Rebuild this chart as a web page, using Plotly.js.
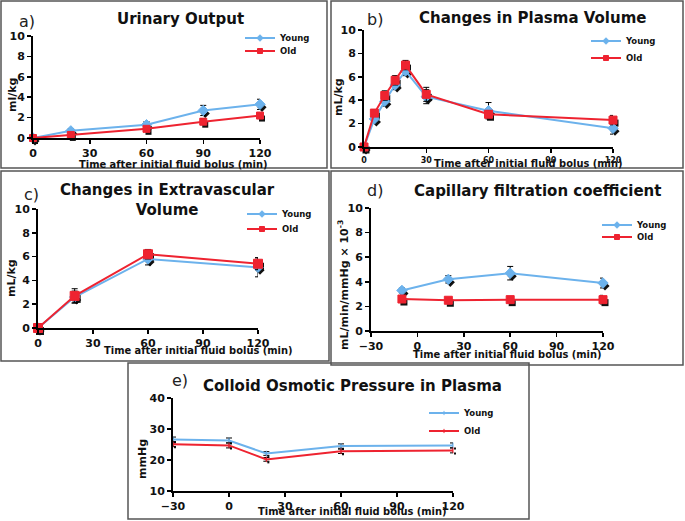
<!DOCTYPE html>
<html><head><meta charset="utf-8">
<script src="https://cdn.plot.ly/plotly-3.0.1.min.js"></script>
<style>html,body{margin:0;padding:0;background:#fff}#chart{width:685px;height:521px}</style>
</head><body><div id="chart"></div>
<script>
// ---------- data ----------
const urineTime = [0, 20, 60, 90, 120];
const urineYoung = [0, 0.7, 1.3, 2.7, 3.3];
const urineYoungErr = [0, 0.2, 0.3, 0.5, 0.5];
const urineOld = [0, 0.3, 0.9, 1.6, 2.2];
const urineOldErr = [0, 0.2, 0.2, 0.3, 0.25];

const plasmaTime = [0, 5, 10, 15, 20, 30, 60, 120];
const plasmaYoung = [0, 2.4, 3.9, 5.3, 6.5, 4.3, 3.1, 1.6];
const plasmaYoungErr = [0, 0.3, 0.4, 0.4, 0.4, 0.6, 0.7, 0.5];
const plasmaOld = [0, 2.9, 4.4, 5.7, 7.0, 4.5, 2.8, 2.3];
const plasmaOldErr = [0, 0.3, 0.4, 0.4, 0.4, 0.6, 0.3, 0.4];

const evTime = [0, 20, 60, 120];
const evYoung = [0, 2.6, 5.8, 5.1];
const evYoungErr = [0, 0.5, 0.5, 0.8];
const evOld = [0, 2.7, 6.2, 5.4];
const evOldErr = [0, 0.6, 0.4, 0.5];

const cfcTime = [-10, 20, 60, 120];
const cfcYoung = [3.3, 4.2, 4.7, 3.9];
const cfcYoungErr = [0.2, 0.3, 0.55, 0.4];
const cfcOld = [2.6, 2.5, 2.55, 2.55];
const cfcOldErr = [0.2, 0.15, 0.15, 0.35];

const copTime = [-30, 0, 20, 60, 120];
const copYoung = [26.6, 26.3, 22.1, 24.5, 24.7];
const copYoungErr = [0.8, 0.8, 0.6, 0.7, 0.8];
const copOld = [25.1, 24.7, 20.2, 22.8, 23.1];
const copOldErr = [0.8, 0.8, 0.6, 0.7, 0.8];

const seriesNames = ['Young', 'Old'];
const timeTicks = [0, 30, 60, 90, 120];
const timeTicksNeg = [-30, 0, 30, 60, 90, 120];
const volTicks = [0, 2, 4, 6, 8, 10];
const copTicks = [10, 20, 30, 40];

// ---------- layout helpers ----------
const W = 685, H = 521;
const fx = v => v / W;
const fy = v => 1 - v / H;
const YOUNG = '#6cb2ec';
const OLD = '#ee2330';
const FONT = 'DejaVu Sans, Verdana, sans-serif';
const NARROW = 'DejaVu Sans Condensed, Liberation Sans Narrow, DejaVu Sans, sans-serif';

const panels = [
  {x: urineTime, y1: urineYoung, e1: urineYoungErr, y2: urineOld, e2: urineOldErr,
   box: [33, 260, 36, 138], xr: [0, 120], yr: [0, 10], xt: timeTicks, yt: volTicks, xfs: 11, ms: [8, 7],
   leg: [280, 38, 51]},
  {x: plasmaTime, y1: plasmaYoung, e1: plasmaYoungErr, y2: plasmaOld, e2: plasmaOldErr,
   box: [364, 613, 30, 147], xr: [0, 120], yr: [0, 10], xt: timeTicks, yt: volTicks, xfs: 8, ms: [8, 8],
   leg: [626, 41, 58]},
  {x: evTime, y1: evYoung, e1: evYoungErr, y2: evOld, e2: evOldErr,
   box: [38, 258, 209, 328], xr: [0, 120], yr: [0, 10], xt: timeTicks, yt: volTicks, xfs: 11, ms: [8, 9],
   leg: [282, 214, 229]},
  {x: cfcTime, y1: cfcYoung, e1: cfcYoungErr, y2: cfcOld, e2: cfcOldErr,
   box: [371, 603, 208, 331], xr: [-30, 120], yr: [0, 10], xt: timeTicksNeg, yt: volTicks, xfs: 11, ms: [8, 8],
   leg: [637, 225, 237]},
  {x: copTime, y1: copYoung, e1: copYoungErr, y2: copOld, e2: copOldErr,
   box: [173, 453, 398, 491], xr: [-30, 120], yr: [10, 40], xt: timeTicksNeg, yt: copTicks, xfs: 11, ms: [3, 3],
   leg: [464, 413, 431], small: true}
];

const data = [];
const layout = {
  width: W, height: H, margin: {l: 0, r: 0, t: 0, b: 0},
  paper_bgcolor: '#fff', plot_bgcolor: 'rgba(0,0,0,0)',
  font: {family: FONT, color: '#111'},
  showlegend: true, annotations: [], shapes: []
};

const SDX = 2, SDY = 3; // shadow offset in px
panels.forEach((p, i) => {
  const s = i + 1;              // shadow axes 1..5
  const m = i + 6;              // main axes 6..10
  const [l, r, t, b] = p.box;
  const sx = s === 1 ? '' : s, mx = m;
  // shadow axes (invisible)
  layout['xaxis' + sx] = {domain: [fx(l + SDX), fx(r + SDX)], range: p.xr, visible: false, anchor: 'y' + sx, fixedrange: true};
  layout['yaxis' + sx] = {domain: [fy(b + SDY), fy(t + SDY)], range: p.yr, visible: false, anchor: 'x' + sx, fixedrange: true};
  // main axes
  const common = {showline: true, linecolor: '#000', linewidth: 2, ticks: 'outside', ticklen: 4,
    tickwidth: 1.5, tickcolor: '#000', showgrid: false, zeroline: false, fixedrange: true};
  layout['xaxis' + mx] = Object.assign({}, common, {domain: [fx(l), fx(r)], range: p.xr, anchor: 'y' + mx,
    tickvals: p.xt, tickfont: {family: FONT, size: p.xfs, color: '#111', weight: 'bold'}});
  layout['yaxis' + mx] = Object.assign({}, common, {domain: [fy(b), fy(t)], range: p.yr, anchor: 'x' + mx,
    tickvals: p.yt, tickfont: {family: FONT, size: 11, color: '#111', weight: 'bold'}});

  const shadowAx = {xaxis: 'x' + sx, yaxis: 'y' + sx};
  // shadows
  data.push(Object.assign({type: 'scatter', mode: 'markers', x: p.x, y: p.y1, showlegend: false, hoverinfo: 'skip',
    cliponaxis: false, marker: {symbol: p.small ? 'square' : 'diamond', size: p.ms[0] - 1, color: '#111'}}, shadowAx));
  data.push(Object.assign({type: 'scatter', mode: 'markers', x: p.x, y: p.y2, showlegend: false, hoverinfo: 'skip',
    cliponaxis: false, marker: {symbol: 'square', size: p.ms[1] - 1, color: '#111'}}, shadowAx));

  const lg1 = 'legend' + (2 * i + 1 === 1 ? '' : 2 * i + 1);
  const lg2 = 'legend' + (2 * i + 2);
  const mainAx = {xaxis: 'x' + mx, yaxis: 'y' + mx};
  // main series
  data.push(Object.assign({type: 'scatter', mode: 'lines+markers', name: seriesNames[0], x: p.x, y: p.y1,
    showlegend: false, cliponaxis: false,
    line: {color: YOUNG, width: 2},
    marker: {symbol: p.small ? 'line-ns' : 'diamond', size: p.small ? 4 : p.ms[0], color: YOUNG, line: {color: YOUNG, width: 1}},
    error_y: {type: 'data', array: p.e1, visible: true, color: '#000', thickness: 1, width: 3}}, mainAx));
  data.push(Object.assign({type: 'scatter', mode: 'lines+markers', name: seriesNames[1], x: p.x, y: p.y2,
    showlegend: false, cliponaxis: false,
    line: {color: OLD, width: 2},
    marker: {symbol: p.small ? 'line-ns' : 'square', size: p.small ? 4 : p.ms[1], color: OLD, line: {color: OLD, width: 1}},
    error_y: {type: 'data', array: p.e2, visible: true, color: '#000', thickness: 1, width: 3}}, mainAx));
  // legend entries (small symbols, as in the reference key)
  data.push(Object.assign({type: 'scatter', mode: 'lines+markers', name: seriesNames[0], x: [null], y: [null],
    legend: lg1, hoverinfo: 'skip', line: {color: YOUNG, width: 2},
    marker: {symbol: p.small ? 'line-ns' : 'diamond', size: p.small ? 3 : 5, color: YOUNG, line: {color: YOUNG, width: 1}}}, mainAx));
  data.push(Object.assign({type: 'scatter', mode: 'lines+markers', name: seriesNames[1], x: [null], y: [null],
    legend: lg2, hoverinfo: 'skip', line: {color: OLD, width: 2},
    marker: {symbol: p.small ? 'line-ns' : 'square', size: p.small ? 3 : 5, color: OLD, line: {color: OLD, width: 1}}}, mainAx));

  const legBase = {xanchor: 'left', yanchor: 'middle', bgcolor: 'rgba(0,0,0,0)', borderwidth: 0,
    font: {family: FONT, size: 8.5, color: '#111', weight: 'bold'}, itemclick: false, itemdoubleclick: false};
  layout[lg1] = Object.assign({}, legBase, {x: fx(p.leg[0] - 40), y: fy(p.leg[1])});
  layout[lg2] = Object.assign({}, legBase, {x: fx(p.leg[0] - 40), y: fy(p.leg[2])});
});

// ---------- text ----------
const ann = (text, x, y, opts) => Object.assign({text, x: fx(x), y: fy(y), xref: 'paper', yref: 'paper',
  showarrow: false, xanchor: 'center', yanchor: 'middle'}, opts || {});
const titleFont = {family: FONT, size: 15, color: '#111', weight: 'bold'};
const letterFont = {family: FONT, size: 16, color: '#222'};
const xtFont = {family: NARROW, size: 11, color: '#111', weight: 'bold'};
const ytFont = {family: FONT, size: 11, color: '#111', weight: 'bold'};
const XT = 'Time after initial fluid bolus (min)';

layout.annotations.push(
  ann('a)', 17, 21, {xanchor: 'left', font: letterFont}),
  ann('b)', 365, 20, {xanchor: 'left', font: letterFont}),
  ann('c)', 22, 194, {xanchor: 'left', font: letterFont}),
  ann('d)', 365, 190, {xanchor: 'left', font: letterFont}),
  ann('e)', 170, 380, {xanchor: 'left', font: letterFont}),
  ann('Urinary Output', 180, 19, {font: titleFont}),
  ann('Changes in Plasma Volume', 532, 18, {font: titleFont}),
  ann('Changes in Extravascular<br>Volume', 167, 200, {font: titleFont}),
  ann('Capillary filtration coefficient', 537, 191, {font: titleFont}),
  ann('Colloid Osmotic Pressure in Plasma', 353, 386, {font: titleFont}),
  ann(XT, 173, 164, {font: xtFont}),
  ann(XT, 528, 163, {font: xtFont}),
  ann(XT, 198, 350, {font: xtFont}),
  ann(XT, 507, 354, {font: xtFont}),
  ann(XT, 352, 511, {font: xtFont}),
  ann('ml/kg', 13, 95, {textangle: -90, font: ytFont}),
  ann('mL/kg', 338, 97, {textangle: -90, font: ytFont}),
  ann('mL/kg', 11, 278, {textangle: -90, font: ytFont}),
  ann('mL/min/mmHg × 10<sup>-3</sup>', 343, 285, {textangle: -90, font: ytFont}),
  ann('mmHg', 142, 459, {textangle: -90, font: ytFont})
);

// ---------- panel frames ----------
const frames = [[1, 327, 1, 168], [331, 683, 1, 168], [1, 329, 171, 361], [331, 683, 171, 365], [128, 529, 363, 519]];
frames.forEach(([x0, x1, y0, y1]) => layout.shapes.push({type: 'rect', xref: 'paper', yref: 'paper',
  x0: fx(x0), x1: fx(x1), y0: fy(y1), y1: fy(y0), line: {color: '#555', width: 1.5}, layer: 'below'}));

Plotly.newPlot('chart', data, layout, {displayModeBar: false, staticPlot: true});
</script></body></html>
